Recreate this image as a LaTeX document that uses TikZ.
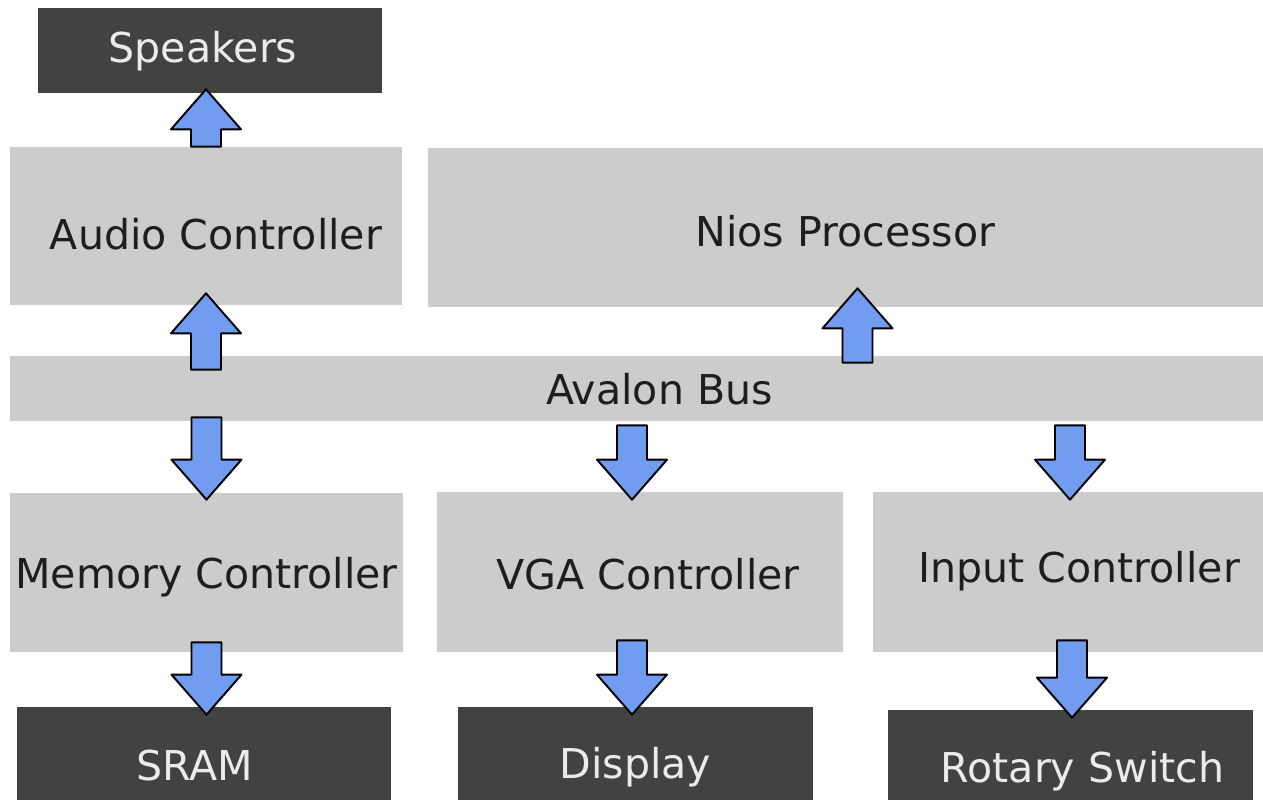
\documentclass[tikz,border=0pt]{standalone}
\usepackage{fontspec}
\setmainfont{DejaVu Sans}
\usepackage{tikz}
\usetikzlibrary{calc}
\definecolor{unit}{HTML}{CCCCCC}
\definecolor{device}{HTML}{424242}
\definecolor{flow}{HTML}{729CF0}
\definecolor{ink}{HTML}{1E1E1E}
\tikzset{
  block/.style={fill=unit,text=ink,inner sep=0pt,text depth=0pt,font=\fontsize{23.4}{27}\selectfont},
  periph/.style={block,fill=device,text=white!92!black},
  fatarrow/.style={fill=flow,draw=black,line width=1.1pt,line join=round}
}
\newcommand\busarrow[2]{%
  \coordinate (fa-s) at #1;
  \coordinate (fa-t) at #2;
  \coordinate (fa-h) at ($(fa-t)!0.8cm!(fa-s)$);
  \draw[fatarrow] ($(fa-s)!0.3cm!90:(fa-t)$) -- ($(fa-h)!0.3cm!90:(fa-t)$)
    -- ($(fa-h)!0.7cm!90:(fa-t)$) -- (fa-t) -- ($(fa-h)!0.7cm!-90:(fa-t)$)
    -- ($(fa-h)!0.3cm!-90:(fa-t)$) -- ($(fa-s)!0.3cm!-90:(fa-t)$) -- cycle;}

\begin{document}
\begin{tikzpicture}[x=0.02cm,y=-0.02cm]
        \useasboundingbox (0,0) rectangle (1263,803);
        \node[periph,minimum width=6.88cm,minimum height=1.7cm,text height=0.49cm] (spk) at (210,50.5) {Speakers\hspace*{0.28cm}};
        \node[block,minimum width=7.84cm,minimum height=3.16cm,text height=0.95cm] (aud) at (206,226) {\hspace*{0.4cm}Audio Controller};
        \node[block,minimum width=16.7cm,minimum height=3.18cm,text height=0.77cm] (nios) at (845.5,227.5) {Nios Processor};
        \node[block,minimum width=25.06cm,minimum height=1.3cm,text height=0.65cm] (bus) at (636.5,388.5) {\hspace*{0.92cm}Avalon Bus};
        \node[block,minimum width=7.86cm,minimum height=3.18cm,text height=0.65cm] (mem) at (206.5,572.5) {Memory Controller};
        \node[block,minimum width=8.12cm,minimum height=3.2cm,text height=0.71cm] (vga) at (640,572) {\hspace*{0.32cm}VGA Controller};
        \node[block,minimum width=7.8cm,minimum height=3.2cm,text height=0.43cm] (inp) at (1068,572) {\hspace*{0.44cm}Input Controller};
        \node[periph,minimum width=7.48cm,minimum height=1.86cm,text height=1.09cm] (sram) at (204,753.5) {SRAM\hspace*{0.36cm}};
        \node[periph,minimum width=7.1cm,minimum height=1.86cm,text height=1.01cm] (disp) at (635.5,753.5) {Display};
        \node[periph,minimum width=7.3cm,minimum height=1.8cm,text height=1.11cm] (rot) at (1070.5,755) {\hspace*{0.48cm}Rotary Switch};
        % data paths
        \busarrow{(aud.north)}{($(aud.north |- spk.south)+(0,-4)$)}
        \busarrow{($(aud.south |- bus.north)+(0,14)$)}{($(aud.south)+(0,-12)$)}
        \busarrow{($(mem.north |- bus.south)+(0,-4)$)}{($(mem.north)+(0,7)$)}
        \busarrow{($(nios.south |- bus.north)+(12,7)$)}{($(nios.south)+(12,-19)$)}
        \busarrow{($(vga.north |- bus.south)+(-8,4)$)}{($(vga.north)+(-8,8)$)}
        \busarrow{($(inp.north |- bus.south)+(2,4)$)}{($(inp.north)+(2,8)$)}
        \busarrow{($(mem.south)+(0,-10)$)}{($(mem.south |- sram.north)+(0,8)$)}
        \busarrow{($(vga.south)+(-8,-12)$)}{($(vga.south |- disp.north)+(-8,8)$)}
        \busarrow{($(inp.south)+(4,-12)$)}{($(inp.south |- rot.north)+(4,8)$)}
      \end{tikzpicture}
\end{document}
